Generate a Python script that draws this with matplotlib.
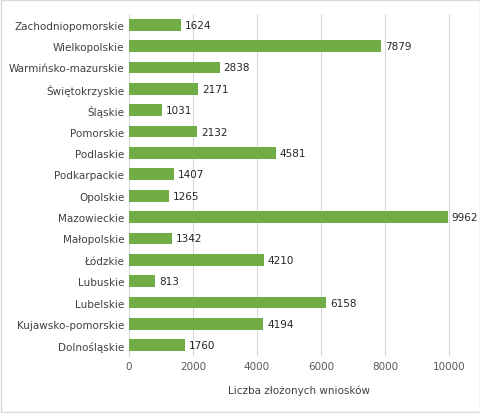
import matplotlib.pyplot as plt

regions = ["Zachodniopomorskie", "Wielkopolskie", "Warmińsko-mazurskie", "Świętokrzyskie",
           "Śląskie", "Pomorskie", "Podlaskie", "Podkarpackie", "Opolskie", "Mazowieckie",
           "Małopolskie", "Łódzkie", "Lubuskie", "Lubelskie", "Kujawsko-pomorskie", "Dolnośląskie"]
values = [1624, 7879, 2838, 2171, 1031, 2132, 4581, 1407, 1265, 9962,
          1342, 4210, 813, 6158, 4194, 1760]
xticks = [0, 2000, 4000, 6000, 8000, 10000]

fig = plt.figure(figsize=(4.81, 4.14), dpi=100)
ax = fig.add_axes([129 / 481, 1 - 357 / 414, 339 / 481, 342 / 414])

ypos = list(range(len(regions)))[::-1]
ax.barh(ypos, values, height=0.55, color="#70ad47", zorder=3)
for y, v in zip(ypos, values):
    ax.text(v + 120, y, str(v), va="center", ha="left", fontsize=7.5, color="#262626")

ax.set_yticks(ypos)
ax.set_yticklabels(regions, fontsize=7.5, color="#404040")
ax.set_xticks(xticks)
ax.set_xticklabels([str(t) for t in xticks], fontsize=7.5, color="#595959")
ax.set_xlim(0, 10600)
ax.set_ylim(-0.5, len(regions) - 0.5)
ax.grid(axis="x", color="#d9d9d9", linewidth=0.8, zorder=0)
ax.tick_params(length=0)
for s in ax.spines.values():
    s.set_visible(False)
ax.spines["left"].set_visible(True)
ax.spines["left"].set_color("#d9d9d9")
ax.set_xlabel("Liczba złożonych wniosków", fontsize=7.5, color="#404040", labelpad=10)

fig.patches.append(plt.Rectangle((0.002, 0.002), 0.996, 0.996, transform=fig.transFigure,
                                 fill=False, edgecolor="#d9d9d9", linewidth=1))
fig.savefig("out.png", dpi=100)
